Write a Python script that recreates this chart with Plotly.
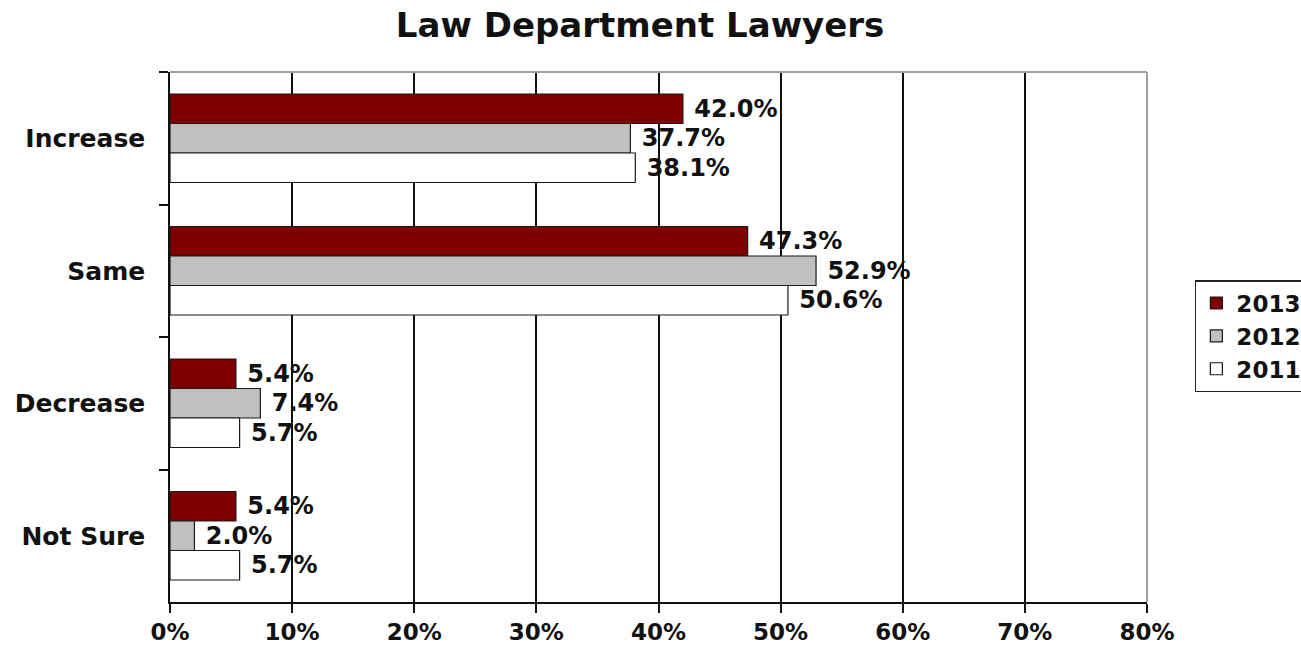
import plotly.graph_objects as go

categories = ["Increase", "Same", "Decrease", "Not Sure"]
years = ["2013", "2012", "2011"]
values_2013 = [42.0, 47.3, 5.4, 5.4]
values_2012 = [37.7, 52.9, 7.4, 2.0]
values_2011 = [38.1, 50.6, 5.7, 5.7]
colors = ["#800000", "#c0c0c0", "#ffffff"]
x_ticks = [0, 10, 20, 30, 40, 50, 60, 70, 80]
x_tick_labels = ["0%", "10%", "20%", "30%", "40%", "50%", "60%", "70%", "80%"]

FONT = "DejaVu Sans"
TXT = "#111111"

fig = go.Figure()
for i, (yr, vals) in enumerate(zip(years, [values_2013, values_2012, values_2011])):
    fig.add_trace(go.Bar(
        name=yr, y=categories, x=vals, orientation="h",
        marker=dict(color=colors[i], line=dict(color="#1a1a1a", width=1.2)),
        texttemplate=" %{x:.1f}%", textposition="outside", cliponaxis=False,
        textfont=dict(family=FONT, size=24, color=TXT, weight="bold"),
        legendgroup=yr,
    ))

fig.update_layout(
    barmode="group", bargap=0.332, bargroupgap=0,
    width=1301, height=650,
    margin=dict(l=170, r=154, t=72, b=48, autoexpand=False),
    paper_bgcolor="white", plot_bgcolor="white",
    title=dict(text="<b>Law Department Lawyers</b>", x=0.492, xref="container", xanchor="center",
               y=1 - 25 / 650, yref="container", yanchor="middle",
               font=dict(family=FONT, size=34, color=TXT)),
    legend=dict(x=1.049, xanchor="left", y=0.6075, yanchor="top",
                bordercolor="#222222", borderwidth=1.5, bgcolor="white",
                font=dict(family=FONT, size=23, color=TXT, weight="bold"),
                tracegroupgap=18, traceorder="normal"),
    showlegend=True,
)
fig.update_xaxes(range=[0, 80], tickvals=x_ticks, ticktext=x_tick_labels,
                 showgrid=True, gridcolor="#111111", gridwidth=1.5,
                 showline=True, linecolor="#111111", linewidth=1.5,
                 ticks="outside", ticklen=9, tickcolor="#111111", tickwidth=1.5,
                 zeroline=False, fixedrange=True, ticklabelstandoff=0,
                 tickfont=dict(family=FONT, size=23, color=TXT, weight="bold"))
fig.update_yaxes(autorange="reversed", showgrid=False,
                 showline=True, linecolor="#111111", linewidth=1.5,
                 ticks="outside", ticklen=9, tickcolor="#111111", tickwidth=1.5,
                 tickson="boundaries", ticklabelstandoff=18, fixedrange=True,
                 tickfont=dict(family=FONT, size=25, color=TXT, weight="bold"))

# gray top and right frame lines
fig.add_shape(type="line", xref="paper", yref="paper", x0=0, x1=1, y0=1, y1=1,
              line=dict(color="#a0a0a0", width=2), layer="above")
fig.add_shape(type="line", xref="paper", yref="paper", x0=1, x1=1, y0=0, y1=1,
              line=dict(color="#a0a0a0", width=2), layer="above")

fig.write_html("out.html", config={"displayModeBar": False},
               post_script="document.body.style.margin='0';document.body.style.overflow='hidden';")
